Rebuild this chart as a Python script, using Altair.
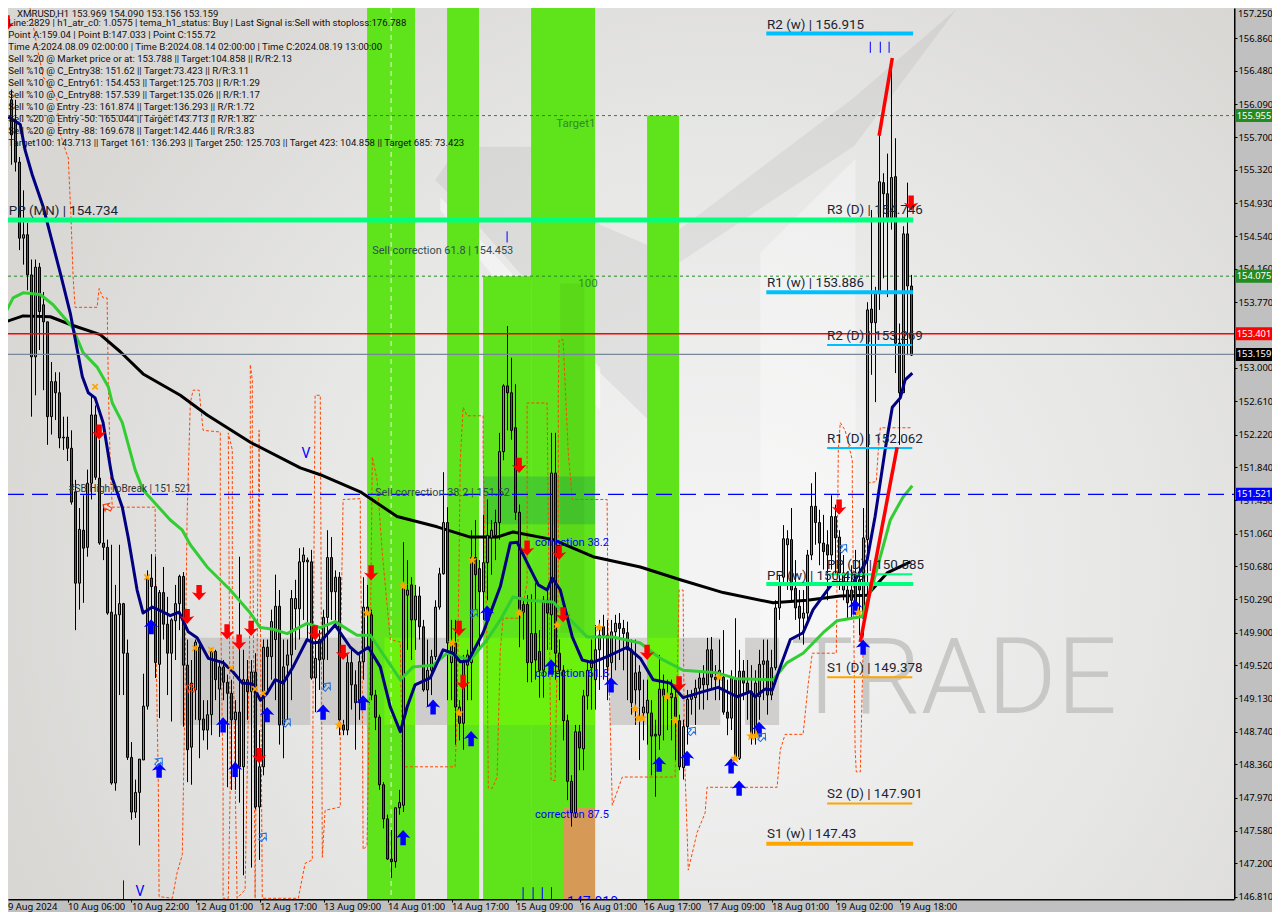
import altair as alt
import pandas as pd

# ---------- candles (bar 2 to bar 227) ----------
highs = [156.26,156.14,155.47,155.08,154.70,154.27,154.27,154.23,153.89,153.54,153.07,152.95,152.95,152.43,152.43,152.27,151.69,151.36,151.51,151.81,152.67,152.56,152.16,151.40,150.99,150.93,150.46,150.93,150.25,149.82,148.62,148.18,148.42,149.42,150.63,150.82,150.79,150.40,150.67,150.32,150.07,150.46,150.58,150.61,149.82,149.58,149.82,149.76,149.11,149.11,149.72,149.70,149.58,149.58,149.41,149.35,149.11,150.79,149.70,149.58,149.58,149.66,148.76,149.82,149.82,150.17,150.58,150.40,149.82,149.82,150.40,150.52,150.89,150.90,150.78,150.87,149.82,149.93,150.17,151.10,151.02,150.63,150.61,148.88,149.64,149.70,149.46,149.64,150.55,150.46,150.17,149.23,148.94,148.15,147.77,147.59,147.85,148.06,150.96,150.75,150.55,150.46,150.44,150.05,149.82,149.70,150.28,150.66,151.78,151.37,150.05,150.05,149.11,149.64,149.70,151.10,151.22,150.75,151.28,151.46,151.22,151.34,152.24,152.81,153.49,153.12,152.81,151.40,150.28,150.34,150.35,150.48,149.93,150.33,150.40,152.24,152.24,149.82,149.52,148.94,148.23,148.82,148.82,149.23,149.58,149.82,149.99,150.05,150.11,150.05,150.05,150.11,150.13,150.05,150.03,149.82,149.82,149.52,149.35,149.35,149.11,148.88,149.64,149.41,149.35,149.35,149.23,148.94,148.88,149.23,149.23,149.35,149.46,149.52,149.84,149.85,149.52,149.82,149.93,149.35,149.46,150.07,149.70,149.58,149.58,149.52,149.46,149.70,149.82,149.82,149.70,150.28,150.58,151.16,151.10,151.36,150.75,150.40,150.40,150.87,151.65,151.78,151.34,151.28,151.10,151.51,151.40,151.10,150.81,150.58,150.69,150.87,150.75,151.36,153.77,154.85,153.95,155.73,155.28,155.51,156.63,155.69,153.52,154.66,155.17,154.09]
body_tops = [156.14,155.90,155.41,154.56,154.56,154.09,154.18,154.18,153.74,153.54,152.84,152.84,152.71,152.19,152.19,152.06,151.55,151.11,151.10,151.65,152.45,152.45,151.71,150.95,150.90,150.14,150.11,150.24,150.24,149.66,148.44,148.03,148.42,149.04,150.54,150.54,150.44,150.37,150.37,150.00,150.05,150.24,150.56,150.56,149.52,149.31,149.79,149.73,148.89,148.94,149.68,149.68,149.50,149.50,149.32,149.19,148.97,148.97,149.35,149.35,149.44,149.44,148.33,149.73,149.73,150.03,150.21,150.21,149.50,149.64,150.30,150.30,150.73,150.81,150.75,150.73,149.60,149.82,150.08,150.78,150.78,150.55,150.55,148.82,149.55,149.55,149.29,149.56,150.20,150.20,150.11,149.17,148.91,148.12,147.72,147.25,147.85,147.91,150.46,150.40,150.46,150.33,150.33,149.97,149.46,149.62,150.20,150.59,151.19,151.19,149.78,149.78,149.03,149.55,149.64,150.78,150.78,150.65,150.72,151.04,151.10,151.19,152.02,152.79,152.79,152.71,152.30,151.31,150.23,150.23,149.89,149.89,149.68,150.28,150.28,151.77,151.77,149.66,149.46,148.87,148.16,148.74,148.74,149.16,149.46,149.58,149.70,149.87,149.97,149.87,149.91,150.01,150.01,149.95,149.90,149.70,149.43,149.44,149.03,149.11,148.96,148.71,149.24,149.24,149.16,149.19,149.14,148.87,148.80,149.12,149.16,149.25,149.37,149.37,149.70,149.70,149.38,149.46,149.38,148.97,149.37,149.35,149.45,149.45,149.31,149.21,149.31,149.53,149.57,149.57,149.49,150.19,150.46,151.00,151.00,150.99,150.42,150.21,150.13,150.81,151.38,151.38,151.19,150.95,150.93,151.26,151.26,151.02,150.60,150.40,150.40,150.60,150.52,151.01,153.68,153.69,153.87,155.18,155.17,155.04,155.23,155.24,153.29,154.57,154.57,153.96]
body_bottoms = [155.73,155.41,154.52,154.52,154.09,153.13,153.13,153.66,153.54,152.43,152.43,152.71,152.18,152.18,152.06,151.43,150.48,150.48,150.89,150.90,151.65,151.72,150.95,150.90,150.13,148.14,148.14,150.11,149.66,148.44,147.80,147.80,148.03,148.41,149.04,150.44,149.55,149.53,150.00,149.66,149.66,150.04,150.24,149.52,148.53,148.56,149.23,148.88,148.76,148.76,148.94,149.35,149.24,149.32,149.19,148.88,148.88,148.33,148.33,149.21,149.21,147.86,147.86,148.33,149.62,149.62,149.82,148.82,148.82,149.52,149.64,150.18,150.18,150.73,150.73,149.37,149.37,149.58,149.59,150.08,150.38,150.38,148.88,148.76,148.76,149.29,149.08,149.08,149.56,150.11,149.17,148.91,148.12,147.72,147.25,147.22,147.22,147.85,147.88,150.34,150.05,150.05,149.97,149.23,149.23,149.46,149.62,150.20,150.59,149.78,149.55,149.03,148.84,148.84,149.52,149.55,150.58,150.38,150.38,150.72,151.01,151.04,151.19,152.02,152.71,152.27,151.31,150.17,150.14,149.55,149.55,149.58,149.46,149.46,150.13,150.11,149.66,149.46,148.87,148.16,147.79,147.79,148.55,148.54,149.16,149.49,149.35,149.70,149.87,149.50,149.55,149.91,149.95,149.89,149.70,149.08,149.23,149.23,148.96,148.96,148.69,148.69,148.70,149.16,149.14,149.14,148.92,148.33,148.32,148.80,149.12,149.14,149.25,149.29,149.29,149.38,149.35,149.38,148.97,148.90,148.90,148.43,148.43,149.31,149.21,148.68,148.68,149.15,149.53,149.17,149.17,149.49,150.19,150.55,150.93,150.40,150.19,150.07,150.07,150.13,150.81,151.19,150.95,150.85,150.81,150.81,151.01,150.60,150.40,150.25,150.28,150.19,150.40,150.07,150.99,153.53,153.53,153.87,155.04,154.76,154.76,153.29,152.71,152.71,153.96,153.15]
lows = [155.38,155.30,154.38,154.21,153.91,152.43,152.68,153.21,152.74,152.10,152.22,152.39,152.06,152.04,151.91,151.40,149.93,150.17,150.25,150.79,151.46,151.69,150.93,150.75,150.11,148.12,148.05,149.17,149.17,148.41,147.71,147.73,147.41,148.41,149.00,149.90,149.37,148.90,149.82,149.17,148.86,149.58,149.93,148.80,148.15,148.12,148.88,148.43,148.64,148.53,148.70,149.11,148.68,149.11,148.09,148.06,148.06,147.91,147.06,148.88,147.15,147.83,147.24,148.23,149.23,149.35,149.11,148.59,148.43,148.88,149.11,149.70,149.82,150.05,149.82,149.35,148.97,149.23,149.23,149.58,150.05,149.99,148.70,148.70,148.70,149.00,148.53,148.88,149.35,149.70,149.11,148.76,148.06,147.61,147.24,147.03,147.15,147.77,147.80,149.70,149.58,149.70,149.82,149.21,149.03,149.17,149.58,150.17,150.58,149.11,149.11,148.59,148.64,148.53,149.11,149.11,150.17,149.70,150.05,150.28,150.58,150.75,150.99,151.92,152.27,152.16,151.22,149.73,149.82,149.32,149.32,149.35,149.14,149.14,149.70,149.70,149.35,149.11,148.64,147.94,147.63,147.73,148.29,148.29,149.00,149.00,149.00,149.23,149.35,149.11,149.23,149.46,149.58,149.46,149.11,148.94,148.82,148.41,148.64,148.59,148.23,147.98,148.53,148.64,148.76,148.64,148.41,148.29,148.18,148.59,148.94,148.82,149.00,149.00,149.11,149.23,149.11,149.11,148.94,148.70,148.76,148.41,148.41,149.11,148.88,148.59,148.59,148.88,149.11,148.94,149.11,149.46,150.05,150.46,150.40,150.28,150.05,149.82,149.76,150.05,150.75,150.93,150.69,150.64,150.28,150.64,150.58,150.40,150.28,150.05,150.08,150.11,149.87,149.87,150.17,152.92,152.60,153.68,154.05,153.83,154.62,152.94,152.10,152.71,153.15,153.14]
directions = ("dddudduddd" "uddudddudu" "uddddduudd" "duuuuddudd" "uuudduuddu"
              "ududddudud" "uduuduuduu" "uuuuududuu" "duddudduud" "dddddduuuu"
              "dudduuuuud" "udduuudduu" "uuuudddddd"
              "uddududddd" "duduuuuudd" "uuddddu" "duu" "ddu" "ddddd" "uu" "uuu" "d" "u" "dd" "u" "dd"
              "u" "d" "u" "ddd" "uuu" "d" "uuuuu" "ddd" "uu" "u" "dddd" "u" "dd" "u" "d"
              "ddd" "uu" "d" "uu" "dd" "uddudd")

# ---------- moving averages (bar position, price) ----------
navy_bars = [1.2,4.2,5.4,7.2,9.9,14.2,16.7,19.7,21.2,22.9,24.9,26.7,27.2,29.7,31.2,33.4,34.9,37.2,39.2,41.7,43.9,46.2,48.4,51.2,54.9,57.4,59.7,62.2,64.2,65.9,67.9,69.9,72.4,75.9,77.4,79.2,82.9,86.7,88.7,91.2,94.2,96.7,99.2,100.9,102.9,106.7,109.9,112.4,114.2,116.2,119.9,124.2,126.7,128.4,130.9,133.7,135.9,137.2,139.2,142.2,144.7,147.2,150.9,155.9,159.2,162.4,166.7,169.9,174.9,178.7,183.4,186.7,187.9,190.4,192.2,194.2,196.7,199.9,202.4,207.4,212.4,215.9,217.9,220.4,222.2,224.2,225.4,227.2]
navy_prices = [155.94,155.85,155.55,155.26,154.89,154.11,153.64,152.90,152.71,152.65,152.36,151.84,151.71,151.37,151.01,150.40,150.13,150.20,150.16,150.10,150.14,149.91,149.84,149.60,149.55,149.44,149.31,149.30,149.11,149.19,149.35,149.31,149.50,149.82,149.78,149.79,149.99,149.73,149.65,149.73,149.50,149.03,148.74,149.03,149.29,149.37,149.70,149.66,149.56,149.57,149.90,150.44,150.95,150.96,150.72,150.46,150.40,150.54,150.40,149.85,149.58,149.55,149.62,149.73,149.60,149.35,149.31,149.14,149.21,149.26,149.15,149.21,149.15,149.24,149.23,149.50,149.82,149.90,150.17,150.49,150.48,150.75,151.26,152.04,152.54,152.65,152.86,152.94]
green_bars = [-0.1,2.4,4.9,9.2,12.4,17.2,19.9,23.4,26.2,27.2,29.7,32.9,34.9,41.7,44.7,46.7,50.9,56.7,61.7,64.2,67.4,70.9,75.9,79.2,82.9,88.4,91.7,99.2,102.4,107.4,110.9,116.7,120.9,124.2,127.4,130.9,137.4,141.7,145.9,152.4,159.2,164.2,169.9,178.4,183.4,192.4,195.9,199.9,204.9,208.4,214.7,217.4,221.7,224.9,227.2]
green_prices = [153.59,153.82,153.88,153.86,153.74,153.48,153.18,153.01,152.78,152.59,152.36,151.81,151.57,151.22,151.10,150.93,150.67,150.40,150.13,149.96,149.94,149.89,150.01,149.96,150.03,149.87,149.87,149.35,149.50,149.52,149.66,149.58,149.82,150.05,150.32,150.28,150.26,150.05,149.85,149.85,149.78,149.60,149.46,149.43,149.36,149.35,149.55,149.66,149.90,150.04,150.09,150.48,151.22,151.49,151.62]
black_bars = [-0.1,4.9,11.7,17.2,24.2,29.2,34.9,44.2,50.9,61.7,74.2,79.2,89.2,98.4,108.4,116.7,123.4,127.4,137.4,147.4,159.2,169.2,179.9,192.4,200.9,209.2,215.9,220.9,226.7]
black_prices = [153.53,153.61,153.60,153.50,153.39,153.19,152.93,152.68,152.45,152.13,151.83,151.75,151.55,151.26,151.14,151.02,151.02,151.08,150.99,150.79,150.67,150.52,150.37,150.25,150.28,150.33,150.34,150.60,150.73]

# ---------- orange dashed stop line ----------
stop_bars = [6.4,8.4,9.9,11.7,13.4,13.9,15.7,16.2,16.9,17.4,17.9,23.4,23.9,24.9,25.9,26.2,26.7,27.2,37.9,38.2,38.7,38.9,42.2,43.4,44.7,44.9,45.4,45.9,46.7,47.4,48.9,49.9,54.2,54.2,54.9,54.9,56.2,56.7,56.2,57.2,57.2,58.4,60.4,61.7,61.7,62.2,62.2,62.9,63.9,64.7,73.7,75.4,77.2,77.4,77.9,79.2,79.7,80.4,84.2,84.2,84.9,89.2,89.2,89.7,89.9,90.9,91.7,92.2,93.4,94.7,96.7,99.2,99.7,112.9,113.4,114.2,114.9,115.9,119.9,119.9,120.9,121.2,122.2,123.4,124.2,124.9,129.2,130.9,130.9,135.9,136.9,137.9,138.7,138.7,138.9,139.9,141.2,142.2,150.9,151.2,152.2,154.7,167.9,168.9,169.9,170.2,170.9,171.2,173.4,175.4,175.9,193.4,194.2,195.4,199.9,201.2,202.2,208.2,208.7,209.2,210.4,212.2,212.2,212.9,213.2,214.2,214.9,215.9,218.2,218.7,219.2,226.9]
stop_prices = [157.27,156.76,156.41,156.29,156.14,155.79,155.52,155.46,154.73,154.07,153.71,153.71,153.93,153.82,153.82,152.82,151.81,151.37,151.37,149.55,148.14,146.81,146.79,147.09,147.30,147.86,149.31,151.26,152.59,152.74,152.74,152.27,152.25,150.48,148.14,146.79,146.79,148.17,152.24,152.04,150.28,146.79,146.89,150.28,153.04,152.86,152.04,146.79,152.27,146.79,146.79,147.20,147.24,149.31,152.68,152.68,147.27,147.82,147.86,149.50,151.46,151.47,150.95,149.31,147.36,147.41,149.70,151.96,151.69,150.83,149.82,149.79,148.33,148.33,148.91,151.92,152.54,152.44,152.44,152.04,149.70,148.08,148.08,148.21,149.70,150.07,150.07,150.48,152.59,152.59,148.17,148.17,150.48,152.66,153.33,153.33,152.00,151.46,151.46,149.70,147.88,148.21,148.21,150.40,150.40,148.53,147.56,147.12,147.56,147.79,148.09,148.09,148.53,148.71,148.71,149.31,149.66,149.66,152.04,152.36,152.27,151.92,151.61,148.53,148.27,148.27,149.70,151.65,151.67,152.04,152.30,152.30]

# ---------- signals ----------
down_bars = [0.9,23.9,45.9,48.9,55.9,58.9,61.9,63.9,77.9,84.9,91.9,113.9,114.9,128.9,130.9,138.9,139.9,160.9,168.9,208.9,226.9]
down_prices = [157.04,152.25,150.09,150.37,149.91,149.79,149.95,148.46,149.90,149.67,150.60,149.95,149.32,151.86,150.89,150.84,150.11,149.67,149.30,151.37,154.93]
up_bars = [36.9,38.9,54.9,57.9,65.9,79.9,89.9,107.4,99.9,116.9,120.9,136.9,151.9,163.9,170.9,181.9,183.9,188.9,212.9,214.9]
up_prices = [149.97,148.29,148.82,148.30,148.94,148.97,149.08,149.03,147.50,148.66,150.13,149.50,149.29,148.36,148.43,148.34,148.08,148.77,150.20,149.73]
star_bars = [83.9,90.9,99.9,112.2,113.9,117.2,128.9,138.4,157.9,158.7,148.9,159.7,165.9,167.9,178.9,182.9,186.9,188.2,213.7]
star_prices = [148.82,150.13,150.45,149.78,148.96,150.75,150.13,149.99,149.01,148.90,149.96,148.90,149.15,148.87,149.38,148.43,148.69,148.70,150.14]
cross_bars = [22.9,35.9,47.9,51.9,56.9,62.9,64.9]
cross_prices = [152.78,150.55,149.72,149.70,149.49,149.24,149.19]
hollow_blue_bars = [70.9,64.9,38.9,80.9,117.7,172.2,189.7,210.0]
hollow_blue_prices = [148.85,147.51,148.39,149.27,150.13,148.75,148.68,150.89]
hollow_red_bars = [25.9,46.7]
hollow_red_prices = [151.37,149.25]

# ---------- horizontal levels ----------
level_names = ["PP (MN) | 154.734", "R2 (w) | 156.915", "R1 (w) | 153.886", "R3 (D) | 154.746", "R2 (D) | 153.269",
               "R1 (D) | 152.062", "PP (w) | 150.469", "PP (D) | 150.585", "S1 (D) | 149.378", "S2 (D) | 147.901", "S1 (w) | 147.43"]
level_values = [154.734, 156.915, 153.886, 154.746, 153.269, 152.062, 150.469, 150.585, 149.378, 147.901, 147.43]
level_starts = [-0.1, 190.7, 190.7, 205.9, 205.9, 205.9, 190.7, 205.9, 205.9, 205.9, 190.7]
level_colors = ["#00ff7f", "#00bfff", "#00bfff", "#00ff7f", "#00bfff", "#00bfff", "#00ff7f", "#00ff7f", "#ffa500", "#ffa500", "#ffa500"]
level_widths = [5, 4, 4, 2, 2, 2, 4, 2, 2, 2, 4]
level_ends = [227.4, 227.4, 227.4, 227.4, 227.2, 227.2, 227.4, 227.2, 227.2, 227.2, 227.4]
level_label_prices = [154.84, 157.02, 153.99, 154.85, 153.38, 152.17, 150.56, 150.69, 149.49, 148.01, 147.54]
level_label_bars = [1.3, 190.9, 190.9, 205.9, 205.9, 205.9, 190.9, 205.9, 205.9, 205.9, 190.9]

price_ticks = [156.86,156.48,156.09,155.70,155.32,154.93,154.54,154.16,153.77,153.00,152.61,152.22,151.84,151.45,151.06,150.68,150.29,149.90,149.52,149.13,148.74,148.36,147.97,147.58,147.20,146.81]
time_ticks = list(range(16, 225, 16))
time_labels = ["10 Aug 06:00","10 Aug 22:00","12 Aug 01:00","12 Aug 17:00","13 Aug 09:00","14 Aug 01:00","14 Aug 17:00",
               "15 Aug 09:00","16 Aug 01:00","16 Aug 17:00","17 Aug 09:00","18 Aug 01:00","19 Aug 02:00","19 Aug 18:00"]

info_lines = ["XMRUSD,H1  153.969 154.090 153.156 153.159",
  "Line:2829 | h1_atr_c0: 1.0575 | tema_h1_status: Buy | Last Signal is:Sell with stoploss:176.788",
  "Point A:159.04 | Point B:147.033 | Point C:155.72",
  "Time A:2024.08.09 02:00:00 | Time B:2024.08.14 02:00:00 | Time C:2024.08.19 13:00:00",
  "Sell %20 @ Market price or at: 153.788 || Target:104.858 || R/R:2.13",
  "Sell %10 @ C_Entry38: 151.62 || Target:73.423 || R/R:3.11",
  "Sell %10 @ C_Entry61: 154.453 || Target:125.703 || R/R:1.29",
  "Sell %10 @ C_Entry88: 157.539 || Target:135.026 || R/R:1.17",
  "Sell %10 @ Entry -23: 161.874 || Target:136.293 || R/R:1.72",
  "Sell %20 @ Entry -50: 165.044 || Target:143.713 || R/R:1.82",
  "Sell %20 @ Entry -88: 169.678 || Target:142.446 || R/R:3.83",
  "Target100: 143.713 || Target 161: 136.293 || Target 250: 125.703 || Target 423: 104.858 || Target 685: 73.423"]
info_prices = [157.15,157.04,156.90,156.76,156.62,156.48,156.34,156.20,156.06,155.92,155.78,155.64]
info_bars = [3.4,1.2,1.2,1.2,1.2,1.2,1.2,1.2,1.2,1.2,1.2,1.2]

note_texts = ["#SB HighToBreak | 151.521", "Sell correction 61.8 | 154.453", "Sell correction 38.2 | 151.62", "Target1", "100",
              "correction 38.2", "correction 61.8", "correction 87.5"]
note_bars = [16.2, 92.2, 92.9, 138.2, 143.7, 132.9, 132.9, 132.9]
note_prices = [151.58, 154.37, 151.54, 155.86, 153.98, 150.95, 149.42, 147.77]
note_colors = ["#333333", "#2f4f4f", "#2f4f4f", "#2e8b2e", "#2e8b2e", "#0000ff", "#0000ff", "#0000ff"]
note_sizes = [10.1, 10.9, 10.9, 11.5, 11.5, 11, 11, 11]

tag_values = [155.955, 154.075, 153.401, 153.159, 151.521]
tag_labels = ["155.955", "154.075", "153.401", "153.159", "151.521"]
tag_colors = ["#228b22", "#228b22", "#ff0000", "#000000", "#0000ff"]

green_x1 = [90.9, 110.9, 119.9, 131.9, 160.9]
green_x2 = [102.9, 118.9, 131.9, 147.9, 168.9]
green_top = [157.3, 157.3, 154.075, 157.3, 155.955]
bright_x1 = [95.2, 110.9, 119.9, 160.9]
bright_x2 = [102.9, 118.9, 147.9, 168.9]
gray_x1 = [44.2, 79.2, 102.9, 151.7, 168.9, 185.4]
gray_x2 = [76.7, 90.9, 110.9, 160.9, 179.2, 193.9]

FONT = "Roboto"
X_SCALE = alt.Scale(domain=[1.125, 307.625], nice=False, zero=False, padding=0)
Y_SCALE = alt.Scale(domain=[146.782, 157.215], nice=False, zero=False, padding=0)
label_js = "[" + ",".join("'" + s + "'" for s in time_labels) + "][round(datum.value/16)-1]"
X_AXIS = alt.Axis(values=time_ticks, labelExpr=label_js, title=None, grid=False, orient="bottom", labelAlign="left",
                  labelOffset=0, labelPadding=0, tickSize=3, tickColor="#000000", domainColor="#000000", domainWidth=2,
                  labelColor="#000000", labelFont="Noto Sans", labelFontSize=9.4, labelOverlap=False, labelFlush=False)
Y_AXIS = alt.Axis(values=price_ticks, format=".3f", title=None, grid=False, orient="right", tickSize=3, tickColor="#000000",
                  domainColor="#000000", domainWidth=2, labelColor="#000000", labelFont="Noto Sans", labelFontSize=9.4,
                  labelPadding=1, labelOverlap=False, labelFlush=False)

def X(f="x"):
    return alt.X(f + ":Q", scale=X_SCALE, axis=X_AXIS)
def Y(f="y"):
    return alt.Y(f + ":Q", scale=Y_SCALE, axis=Y_AXIS)

def series(bars, prices):
    return pd.DataFrame({"x": bars, "y": prices, "i": list(range(len(bars)))})

def poly(color, width, bars, prices, dash=None):
    kw = {"strokeDash": dash} if dash else {}
    return alt.Chart(series(bars, prices)).mark_line(color=color, strokeWidth=width, clip=True, strokeJoin="round", **kw).encode(
        x=X(), y=Y(), order=alt.Order("i:Q"))

def band(rows, color, opacity):
    d = pd.DataFrame(rows, columns=["x", "y", "y2"])
    return alt.Chart(d).mark_area(color=color, opacity=opacity, clip=True).encode(
        x=X(), y=Y(), y2=alt.Y2("y2:Q"))

def rects(x1, x2, y1, y2, color, opacity=1.0):
    d = pd.DataFrame({"x": x1, "x2": x2, "y": y1, "y2": y2})
    return alt.Chart(d).mark_rect(color=color, opacity=opacity, clip=True).encode(
        x=X(), x2=alt.X2("x2:Q"), y=Y(), y2=alt.Y2("y2:Q"))

def glyph(path, bars, prices, color, size, filled=True, angle=0):
    return alt.Chart(series(bars, prices)).mark_point(
        shape=path, filled=filled, size=size, color=color, opacity=1, clip=True, angle=angle,
        strokeWidth=1 if not filled else 0).encode(x=X(), y=Y())

def hline(value, color, dash=None, width=1):
    kw = {"strokeDash": dash} if dash else {}
    d = pd.DataFrame({"y": [value]})
    return alt.Chart(d).mark_rule(color=color, strokeWidth=width, clip=True, **kw).encode(
        y=Y(), x=alt.value(0), x2=alt.value(1226))

# ---------- background ----------
bg = alt.Chart(pd.DataFrame({"a": [0]})).mark_rect(
    color=alt.RadialGradient(gradient="radial", x1=0.58, y1=0.6, r1=0.05, x2=0.58, y2=0.6, r2=0.62,
                             stops=[alt.GradientStop(offset=0, color="#f3f3f3"),
                                    alt.GradientStop(offset=0.55, color="#e6e6e5"),
                                    alt.GradientStop(offset=1, color="#d8d7d4")])
).encode(x=alt.value(0), x2=alt.value(1226), y=alt.value(0), y2=alt.value(891))

logo_dark = [
    band([[107.9,155.20,155.20],[113.7,155.59,154.93],[136.0,155.59,153.74],[143.0,154.97,153.33],[149.0,154.68,152.95],[161.0,154.44,152.40]], "#000000", 0.055),
    band([[161.0,154.44,154.44],[169.2,154.63,154.24],[212.7,156.17,155.60],[238.4,157.21,157.21]], "#000000", 0.05),
    band([[139.2,153.99,149.9],[145.2,153.99,149.9]], "#000000", 0.045),
]
logo_light = [
    band([[109.2,155.00,154.85],[149.2,153.00,152.50]], "#ffffff", 0.45),
    band([[189.2,154.35,149.8],[213.0,155.45,149.8]], "#ffffff", 0.35),
]
green_zones = rects(green_x1, green_x2, green_top, [146.7]*5, "#5fe31a")
orange_zone = rects([139.9], [147.9], [147.85], [146.7], "#d69a56")
bright_zone = rects(bright_x1, bright_x2, [149.84]*4, [148.82]*4, "#6cf00e")
dark_zone = rects([119.9], [147.9], [151.73], [151.17], "#1f9f4f", 0.35)
gray_zone = rects(gray_x1, gray_x2, [149.84]*6, [148.82]*6, "#bdbcba", 0.62)
wm = alt.Chart(pd.DataFrame({"t": ["TRADE"], "x": [196.7], "y": [149.33]})).mark_text(
    font="Roboto", fontWeight=300, fontSize=106, align="left", baseline="middle", color="#c8c8c7", clip=True
).encode(x=X(), y=Y(), text="t:N")

separator = alt.Chart(pd.DataFrame({"x": [96.9]})).mark_rule(color="#ffffff", strokeWidth=1, strokeDash=[5, 4], opacity=0.85, clip=True).encode(
    x=X(), y=alt.value(0), y2=alt.value(891))

# ---------- candles ----------
n = len(highs)
assert n == 226 and len(lows) == n and len(body_tops) == n and len(body_bottoms) == n and len(directions) == n, (len(highs), len(lows), len(body_tops), len(body_bottoms), len(directions))
candles = pd.DataFrame({"x": list(range(2, 2 + n)), "h": highs, "l": lows, "t": body_tops, "b": body_bottoms, "d": list(directions)})
wick = alt.Chart(candles).mark_rule(color="#000000", strokeWidth=1, clip=True).encode(x=X(), y=Y("h"), y2=alt.Y2("l:Q"))
body = alt.Chart(candles).mark_bar(size=2, stroke="#000000", strokeWidth=1, clip=True).encode(
    x=X(), y=Y("t"), y2=alt.Y2("b:Q"),
    color=alt.Color("d:N", scale=alt.Scale(domain=["u", "d"], range=["#35b97a", "#b52a44"]), legend=None))

# ---------- levels ----------
levels = pd.DataFrame({"x": level_starts, "x2": level_ends, "y": level_values, "c": level_colors, "w": level_widths,
                       "name": level_names, "ly": level_label_prices, "lx": level_label_bars})
level_rules = alt.Chart(levels).mark_rule(clip=True).encode(
    x=X(), x2=alt.X2("x2:Q"), y=Y(), color=alt.Color("c:N", scale=None), strokeWidth=alt.StrokeWidth("w:Q", scale=None))
level_text = alt.Chart(levels).mark_text(align="left", baseline="middle", font=FONT, fontSize=13.4, color="#1a2533").encode(
    x=X("lx"), y=Y("ly"), text="name:N")

notes = pd.DataFrame({"x": note_bars, "y": note_prices, "t": note_texts, "c": note_colors, "s": note_sizes})
note_layer = alt.Chart(notes).mark_text(align="left", baseline="middle", font=FONT).encode(
    x=X(), y=Y(), text="t:N", color=alt.Color("c:N", scale=None), size=alt.Size("s:Q", scale=None))
info = pd.DataFrame({"x": info_bars, "y": info_prices, "t": info_lines})
info_layer = alt.Chart(info).mark_text(align="left", baseline="middle", font=FONT, fontSize=9.6, color="#111111").encode(
    x=X(), y=Y(), text="t:N")

clipped = pd.DataFrame({"x": [140.9, 33.0, 74.5], "y": [146.74, 146.86, 151.99], "t": ["147.010", "V", "V"]})
clipped_layer = alt.Chart(clipped).mark_text(align="left", baseline="middle", font=FONT, fontSize=14, color="#0000ff", clip=True).encode(
    x=X(), y=Y(), text="t:N")

ticks = pd.DataFrame({"x": [216.7, 219.2, 221.4, 125.9, 129.9, 132.4, 134.7, 137.0, 30.0],
                      "y": [156.82, 156.82, 156.82, 154.60, 146.92, 146.92, 146.92, 146.92, 147.0],
                      "y2": [156.69, 156.69, 156.69, 154.47, 146.7, 146.7, 146.7, 146.7, 146.7]})
tick_layer = alt.Chart(ticks).mark_rule(color="#0000ff", strokeWidth=1, clip=True).encode(x=X(), y=Y(), y2=alt.Y2("y2:Q"))

# ---------- price tags on the axis ----------
tags = pd.DataFrame({"y": tag_values, "t": tag_labels, "c": tag_colors})
tag_box = alt.Chart(tags).mark_rect(width=36, height=13).encode(y=Y(), x=alt.value(1246), color=alt.Color("c:N", scale=None))
tag_text = alt.Chart(tags).mark_text(font="Noto Sans", fontSize=9.4, color="#ffffff").encode(y=Y(), x=alt.value(1246), text="t:N")
first_tick = alt.Chart(pd.DataFrame({"t": ["157.250"], "y": [157.215]})).mark_text(
    font="Noto Sans", fontSize=9.4, color="#000000", align="left", baseline="top", dy=2).encode(y=Y(), x=alt.value(1230), text="t:N")
first_time = alt.Chart(pd.DataFrame({"t": ["9 Aug 2024"], "y": [146.782]})).mark_text(
    font="Noto Sans", fontSize=9.4, color="#000000", align="left", baseline="top", dy=4).encode(y=Y(), x=alt.value(0), text="t:N")

ARROW_UP = "M0,-1 L0.95,0.05 L0.36,-0.1 L0.36,1 L-0.36,1 L-0.36,-0.1 L-0.95,0.05 Z"
ARROW_DOWN = "M0,1 L0.95,-0.05 L0.36,0.1 L0.36,-1 L-0.36,-1 L-0.36,0.1 L-0.95,-0.05 Z"
STAR = "M0,-1 L0.27,-0.3 L0.95,-0.3 L0.4,0.12 L0.6,0.85 L0,0.42 L-0.6,0.85 L-0.4,0.12 L-0.95,-0.3 L-0.27,-0.3 Z"
CROSS = "M-0.8,-0.5 L-0.5,-0.8 L0,-0.3 L0.5,-0.8 L0.8,-0.5 L0.3,0 L0.8,0.5 L0.5,0.8 L0,0.3 L-0.5,0.8 L-0.8,0.5 L-0.3,0 Z"

layers = [bg] + logo_dark[:2] + logo_light + [
    green_zones, orange_zone, bright_zone, dark_zone, logo_dark[2], gray_zone, wm, separator,
    hline(155.955, "#228b22", [3, 3]), hline(154.075, "#228b22", [3, 3]), 
    poly("#ff4500", 1, stop_bars, stop_prices, [3, 2]),
    poly("#000000", 3, black_bars, black_prices),
    wick, body,
    poly("#32cd32", 3, green_bars, green_prices),
    poly("#000080", 3, navy_bars, navy_prices),
    hline(153.401, "#ff0000", None, 1.5), hline(153.159, "#778899", None, 1.2), hline(151.521, "#0000ff", [16, 8], 1.2),
    level_rules,
    poly("#ff0000", 3.5, [214.2, 223.4], [149.79, 152.07]),
    poly("#ff0000", 3.5, [218.9, 222.2], [155.72, 156.63]),
    glyph(ARROW_DOWN, down_bars, down_prices, "#ff0000", 230),
    glyph(ARROW_UP, up_bars, up_prices, "#0000ff", 230),
    glyph(STAR, star_bars, star_prices, "#ffa500", 110),
    glyph(CROSS, cross_bars, cross_prices, "#ffa500", 70),
    glyph(ARROW_UP, hollow_blue_bars, hollow_blue_prices, "#1e6fe0", 90, filled=False, angle=40),
    glyph(ARROW_UP, hollow_red_bars, hollow_red_prices, "#ff3300", 90, filled=False, angle=300),
    tick_layer, clipped_layer, level_text, note_layer, info_layer,
    tag_box, tag_text, first_tick, first_time,
]

chart = alt.layer(*layers).properties(
    width=1226, height=891, background="#c0c0c0",
    padding={"left": 0, "top": 0, "right": 38, "bottom": 13},
    autosize=alt.AutoSizeParams(type="none"),
).resolve_scale(color="independent").configure_view(stroke=None)

chart.save("out.html", embed_options={"renderer": "svg", "actions": False})
